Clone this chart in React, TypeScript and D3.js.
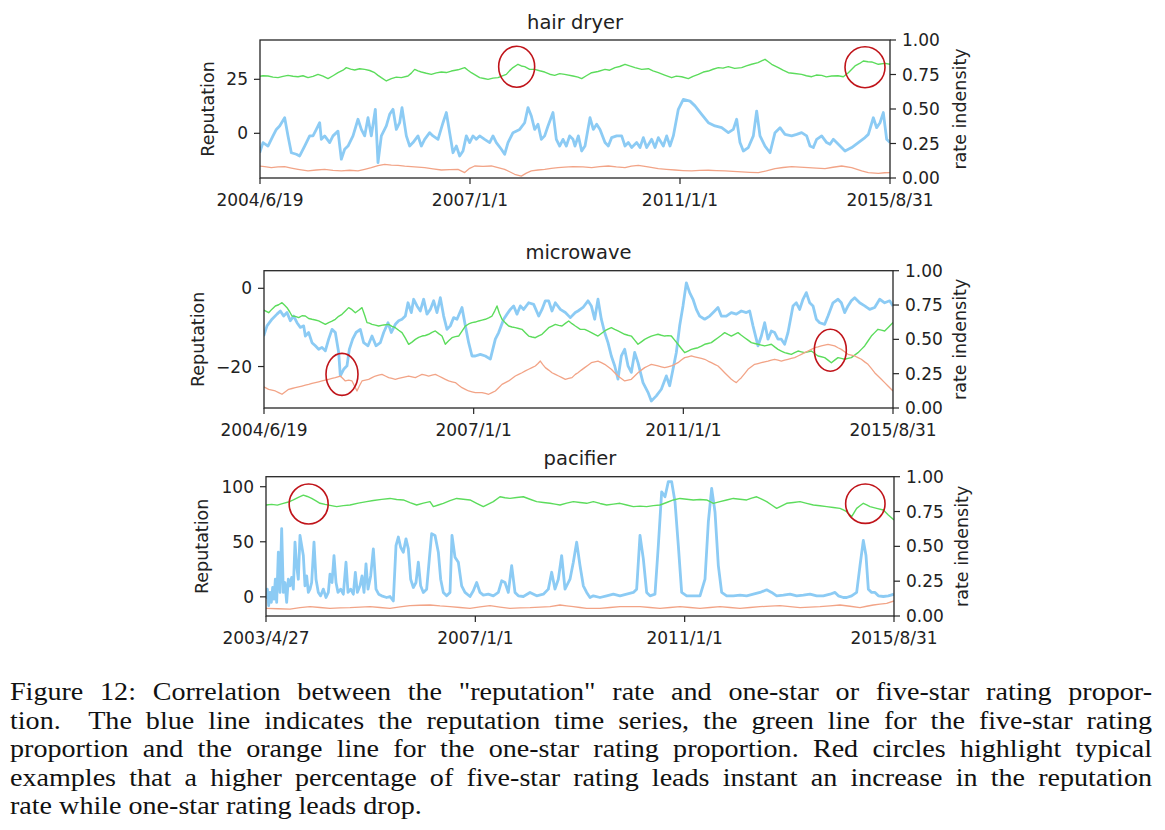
import React, { useLayoutEffect, useRef } from "react";
import * as d3 from "d3";

type P = [number, number];

// ---------- shared tick labels ----------
const X_LABELS_A = ["2004/6/19", "2007/1/1", "2011/1/1", "2015/8/31"];
const X_LABELS_B = ["2003/4/27", "2007/1/1", "2011/1/1", "2015/8/31"];
const RIGHT_TICKS = [0, 0.25, 0.5, 0.75, 1.0];

// ---------- hair dryer ----------
const HAIR_T: P = [6, 1896];
const HAIR_REP: P = [-20.7, 43.2];
const HAIR_LEFT_TICKS = [0, 25];
const HAIR_BLUE: P[] = [[5,-9.0],[15,-4.3],[30,-5.9],[45,-1.2],[55,1.8],[65,3.4],[80,7.2],[90,-1.2],[100,-9.0],[115,-9.7],[125,-10.5],[140,-5.9],[155,-1.2],[165,-1.2],[175,1.8],[185,4.9],[190,-2.8],[200,-1.2],[215,-4.3],[225,-1.2],[240,1.0],[250,-12.0],[260,-7.4],[270,-5.9],[285,-1.2],[300,6.5],[310,1.8],[320,-1.2],[330,7.2],[340,-1.2],[352,11.1],[360,-13.6],[370,-1.2],[385,3.4],[395,8.8],[405,11.1],[415,1.8],[425,4.9],[432,11.9],[445,-1.2],[455,-5.9],[465,-4.3],[480,-1.2],[490,-5.9],[500,-2.8],[515,0.3],[525,-1.2],[540,-2.8],[555,4.9],[565,9.6],[575,0.3],[585,-9.0],[595,-5.9],[605,-10.5],[615,-8.2],[625,-1.2],[635,-4.3],[645,-1.2],[655,-2.8],[665,-1.2],[680,-2.8],[695,-4.3],[705,-1.2],[715,-4.3],[730,-7.4],[740,-9.7],[750,-4.3],[765,0.3],[785,1.8],[800,4.9],[810,11.9],[820,8.0],[830,1.8],[840,4.2],[850,-2.8],[860,-1.2],[870,3.4],[885,9.6],[895,-2.8],[905,-5.9],[915,-2.8],[925,-5.9],[935,-1.2],[945,-2.8],[951,-5.9],[961,-1.2],[971,-8.2],[981,-5.9],[996,7.2],[1006,1.8],[1016,4.2],[1026,1.8],[1041,-4.3],[1051,-5.9],[1061,-2.0],[1076,-1.2],[1091,-1.2],[1101,-5.9],[1111,-4.3],[1121,-6.6],[1136,-4.3],[1146,-6.6],[1156,-2.0],[1166,-6.6],[1181,-2.8],[1191,-6.6],[1201,-2.0],[1216,-5.9],[1226,-1.2],[1236,-5.9],[1246,-1.2],[1261,11.1],[1276,15.7],[1296,14.9],[1311,12.7],[1331,8.8],[1351,4.9],[1371,3.4],[1391,2.6],[1411,0.3],[1426,1.8],[1436,6.5],[1446,-4.3],[1456,-8.2],[1471,-6.6],[1486,-1.2],[1496,10.3],[1506,-1.2],[1521,-5.9],[1536,-9.0],[1551,0.3],[1566,2.6],[1581,-0.5],[1601,-1.2],[1616,-0.5],[1631,0.3],[1646,-1.2],[1656,-5.9],[1666,-6.6],[1676,-2.8],[1691,-1.2],[1706,-4.3],[1716,-5.1],[1726,-2.8],[1741,-5.1],[1761,-8.2],[1781,-6.6],[1801,-4.3],[1821,-2.0],[1831,-0.5],[1846,7.2],[1856,2.6],[1866,4.9],[1876,9.6],[1886,-2.8],[1896,-4.3]];
const HAIR_GREEN: P[] = [[0,0.734],[15,0.741],[30,0.739],[45,0.731],[60,0.727],[75,0.736],[90,0.744],[105,0.737],[120,0.734],[135,0.741],[150,0.727],[165,0.736],[180,0.751],[195,0.738],[210,0.720],[225,0.741],[240,0.763],[255,0.781],[265,0.800],[278,0.789],[290,0.783],[305,0.792],[320,0.787],[335,0.779],[350,0.763],[360,0.744],[370,0.727],[385,0.703],[400,0.720],[415,0.731],[430,0.727],[450,0.739],[460,0.760],[470,0.787],[480,0.776],[490,0.768],[505,0.759],[520,0.751],[535,0.762],[550,0.768],[565,0.764],[580,0.775],[600,0.784],[620,0.800],[630,0.781],[640,0.763],[655,0.742],[665,0.727],[678,0.721],[690,0.715],[705,0.724],[720,0.727],[735,0.742],[745,0.751],[755,0.778],[765,0.800],[780,0.824],[790,0.812],[800,0.807],[815,0.787],[830,0.787],[845,0.777],[860,0.768],[875,0.752],[890,0.744],[905,0.756],[920,0.751],[945,0.739],[960,0.731],[971,0.720],[985,0.741],[1001,0.763],[1020,0.772],[1041,0.787],[1055,0.781],[1071,0.800],[1085,0.808],[1101,0.824],[1115,0.812],[1131,0.800],[1151,0.787],[1171,0.792],[1185,0.776],[1201,0.763],[1220,0.746],[1241,0.727],[1255,0.738],[1271,0.734],[1291,0.720],[1305,0.737],[1321,0.751],[1336,0.768],[1351,0.775],[1365,0.788],[1381,0.800],[1395,0.796],[1411,0.807],[1430,0.794],[1451,0.800],[1465,0.812],[1481,0.824],[1500,0.836],[1521,0.860],[1531,0.842],[1541,0.824],[1561,0.800],[1575,0.781],[1591,0.763],[1610,0.757],[1631,0.751],[1645,0.741],[1661,0.734],[1675,0.746],[1691,0.744],[1705,0.733],[1721,0.739],[1740,0.741],[1756,0.734],[1771,0.763],[1791,0.812],[1805,0.830],[1816,0.848],[1830,0.842],[1841,0.841],[1861,0.824],[1881,0.831],[1896,0.824]];
const HAIR_ORANGE: P[] = [[0,0.087],[20,0.082],[40,0.075],[60,0.080],[80,0.082],[100,0.072],[120,0.063],[150,0.051],[175,0.058],[200,0.063],[225,0.055],[250,0.051],[275,0.056],[300,0.051],[320,0.063],[340,0.075],[360,0.089],[380,0.099],[400,0.094],[420,0.092],[440,0.086],[460,0.082],[480,0.079],[500,0.075],[525,0.066],[550,0.058],[575,0.060],[600,0.063],[620,0.039],[635,0.070],[650,0.087],[675,0.084],[700,0.087],[720,0.075],[740,0.063],[755,0.045],[770,0.027],[790,0.014],[805,0.035],[820,0.051],[840,0.058],[860,0.063],[880,0.070],[900,0.075],[920,0.079],[945,0.082],[975,0.080],[1001,0.075],[1025,0.082],[1051,0.087],[1075,0.080],[1101,0.075],[1120,0.086],[1141,0.092],[1170,0.080],[1201,0.068],[1225,0.063],[1251,0.058],[1275,0.054],[1301,0.051],[1325,0.055],[1351,0.056],[1375,0.053],[1401,0.051],[1425,0.048],[1451,0.044],[1475,0.041],[1501,0.039],[1525,0.052],[1551,0.068],[1575,0.076],[1601,0.082],[1625,0.079],[1651,0.075],[1675,0.072],[1701,0.068],[1725,0.078],[1751,0.087],[1781,0.075],[1811,0.051],[1831,0.039],[1861,0.034],[1880,0.038],[1896,0.039]];
const HAIR_CIRCLES: P[] = [[776, 0.806], [1821, 0.803]];

// ---------- microwave ----------
const MICRO_T: P = [6, 1893];
const MICRO_REP: P = [-30.6, 4.5];
const MICRO_LEFT_TICKS = [-20, 0];
const MICRO_BLUE: P[] = [[5,-12.2],[15,-9.6],[30,-7.9],[45,-6.6],[55,-5.8],[65,-7.1],[75,-6.2],[85,-8.3],[95,-7.1],[105,-8.8],[115,-10.0],[125,-9.6],[130,-12.2],[140,-11.3],[150,-13.9],[160,-14.7],[170,-15.6],[180,-15.1],[190,-16.0],[200,-13.0],[210,-10.5],[220,-11.3],[230,-16.4],[235,-22.4],[245,-20.7],[255,-19.8],[262,-15.6],[272,-13.0],[282,-11.3],[295,-10.5],[305,-13.9],[318,-14.7],[330,-12.2],[342,-14.7],[355,-13.9],[365,-11.3],[378,-8.8],[388,-11.3],[400,-9.2],[410,-8.3],[420,-7.9],[430,-7.1],[438,-3.7],[448,-6.2],[455,-2.8],[465,-4.5],[475,-5.8],[485,-2.8],[495,-6.6],[505,-5.4],[515,-3.2],[525,-6.2],[535,-2.4],[545,-7.1],[555,-10.5],[565,-9.6],[575,-7.5],[585,-7.9],[600,-4.9],[610,-9.6],[620,-13.9],[630,-17.3],[640,-17.3],[655,-16.9],[670,-17.3],[685,-18.1],[700,-13.0],[710,-11.3],[725,-7.9],[735,-6.6],[745,-5.4],[755,-4.5],[765,-6.6],[775,-4.5],[785,-5.4],[800,-3.7],[815,-4.1],[830,-7.1],[840,-5.4],[850,-3.2],[860,-3.2],[870,-5.8],[880,-3.7],[895,-5.4],[910,-6.2],[925,-7.5],[940,-6.2],[948,-5.8],[963,-4.9],[978,-3.2],[988,-4.5],[998,-7.9],[1008,-2.8],[1018,-7.9],[1028,-11.3],[1038,-13.9],[1048,-17.3],[1058,-19.8],[1068,-23.2],[1078,-17.3],[1088,-15.6],[1098,-19.8],[1108,-21.5],[1118,-16.4],[1128,-19.0],[1143,-24.1],[1158,-26.6],[1168,-28.8],[1183,-27.5],[1198,-25.8],[1213,-22.4],[1223,-24.9],[1233,-20.7],[1243,-16.4],[1253,-9.6],[1263,-4.5],[1273,1.4],[1283,-1.1],[1293,-2.8],[1303,-5.4],[1313,-7.1],[1328,-7.9],[1343,-7.1],[1358,-5.8],[1368,-4.9],[1378,-7.1],[1393,-7.1],[1408,-6.2],[1423,-6.6],[1438,-5.8],[1453,-6.2],[1463,-5.8],[1473,-9.6],[1488,-14.7],[1498,-12.2],[1508,-8.8],[1518,-13.0],[1528,-10.9],[1538,-11.3],[1548,-13.0],[1558,-13.0],[1568,-14.3],[1578,-11.3],[1593,-4.5],[1603,-3.7],[1613,-5.4],[1623,-2.8],[1633,-1.1],[1643,-3.7],[1653,-4.5],[1663,-7.9],[1673,-8.8],[1688,-9.2],[1698,-7.1],[1713,-3.7],[1728,-2.8],[1738,-3.7],[1748,-6.2],[1758,-4.5],[1768,-3.2],[1778,-2.4],[1793,-3.7],[1808,-4.5],[1823,-5.4],[1838,-4.9],[1853,-2.8],[1868,-3.7],[1883,-3.2],[1893,-4.5]];
const MICRO_GREEN: P[] = [[0,0.719],[10,0.708],[20,0.694],[30,0.720],[40,0.743],[50,0.752],[60,0.767],[68,0.748],[75,0.731],[83,0.701],[90,0.670],[100,0.667],[110,0.658],[120,0.672],[130,0.670],[140,0.652],[150,0.646],[160,0.641],[170,0.634],[180,0.622],[190,0.609],[200,0.622],[210,0.632],[220,0.646],[230,0.668],[240,0.682],[250,0.706],[260,0.731],[270,0.716],[280,0.694],[290,0.712],[300,0.731],[308,0.676],[315,0.622],[322,0.618],[330,0.609],[340,0.604],[350,0.597],[365,0.605],[380,0.609],[390,0.595],[400,0.585],[410,0.566],[420,0.549],[430,0.509],[440,0.464],[450,0.480],[460,0.500],[470,0.515],[480,0.524],[490,0.528],[500,0.537],[510,0.551],[520,0.561],[530,0.542],[540,0.524],[550,0.464],[560,0.490],[570,0.512],[580,0.520],[590,0.524],[600,0.560],[610,0.597],[620,0.612],[630,0.622],[640,0.626],[650,0.634],[660,0.640],[670,0.646],[680,0.657],[690,0.670],[698,0.706],[705,0.743],[712,0.690],[720,0.646],[730,0.620],[740,0.597],[750,0.590],[760,0.585],[770,0.579],[780,0.573],[790,0.548],[800,0.524],[810,0.517],[820,0.512],[830,0.526],[840,0.537],[850,0.561],[860,0.585],[870,0.597],[880,0.609],[890,0.602],[900,0.597],[910,0.616],[920,0.634],[930,0.614],[940,0.597],[955,0.573],[968,0.573],[978,0.561],[988,0.549],[998,0.536],[1008,0.524],[1018,0.543],[1028,0.561],[1038,0.574],[1048,0.585],[1058,0.572],[1068,0.561],[1078,0.549],[1088,0.537],[1098,0.530],[1108,0.524],[1118,0.494],[1128,0.464],[1138,0.482],[1148,0.500],[1158,0.512],[1168,0.524],[1178,0.531],[1188,0.537],[1198,0.530],[1208,0.524],[1218,0.527],[1228,0.524],[1238,0.494],[1248,0.464],[1258,0.433],[1268,0.403],[1278,0.415],[1288,0.427],[1298,0.433],[1308,0.439],[1318,0.451],[1328,0.464],[1338,0.470],[1348,0.476],[1358,0.494],[1368,0.512],[1378,0.530],[1388,0.549],[1398,0.536],[1408,0.524],[1418,0.537],[1428,0.549],[1438,0.530],[1448,0.512],[1458,0.494],[1468,0.476],[1478,0.470],[1488,0.464],[1498,0.458],[1508,0.452],[1518,0.458],[1528,0.464],[1538,0.445],[1548,0.427],[1558,0.415],[1568,0.403],[1578,0.397],[1588,0.391],[1598,0.403],[1608,0.415],[1618,0.409],[1628,0.403],[1638,0.409],[1648,0.415],[1658,0.397],[1668,0.379],[1678,0.373],[1688,0.367],[1698,0.349],[1708,0.330],[1718,0.349],[1728,0.367],[1738,0.361],[1748,0.355],[1758,0.361],[1768,0.367],[1778,0.385],[1788,0.403],[1798,0.427],[1808,0.452],[1818,0.488],[1828,0.524],[1838,0.549],[1848,0.573],[1858,0.567],[1868,0.561],[1880,0.590],[1893,0.622]];
const MICRO_ORANGE: P[] = [[0,0.160],[10,0.148],[20,0.136],[30,0.130],[40,0.124],[50,0.112],[60,0.100],[70,0.118],[80,0.136],[90,0.142],[100,0.148],[110,0.154],[120,0.160],[130,0.166],[140,0.172],[150,0.179],[160,0.185],[170,0.191],[180,0.197],[190,0.203],[200,0.209],[210,0.215],[220,0.221],[235,0.233],[250,0.197],[260,0.203],[270,0.197],[285,0.124],[292,0.160],[300,0.197],[310,0.203],[320,0.209],[330,0.221],[340,0.233],[350,0.239],[360,0.245],[370,0.233],[380,0.221],[390,0.215],[400,0.209],[410,0.215],[420,0.221],[430,0.227],[440,0.233],[450,0.227],[460,0.221],[470,0.233],[480,0.245],[490,0.239],[500,0.233],[510,0.239],[520,0.245],[530,0.233],[540,0.221],[550,0.209],[560,0.197],[570,0.191],[580,0.185],[590,0.166],[600,0.148],[610,0.136],[620,0.124],[630,0.118],[640,0.112],[650,0.112],[660,0.112],[670,0.106],[680,0.100],[690,0.112],[700,0.124],[710,0.148],[720,0.172],[730,0.185],[740,0.197],[750,0.215],[760,0.233],[770,0.245],[780,0.257],[790,0.270],[800,0.282],[810,0.294],[820,0.306],[828,0.324],[835,0.342],[842,0.318],[850,0.294],[860,0.276],[870,0.257],[880,0.245],[890,0.233],[900,0.221],[910,0.209],[920,0.215],[930,0.221],[940,0.245],[948,0.257],[958,0.276],[968,0.294],[978,0.312],[988,0.330],[998,0.336],[1008,0.342],[1018,0.330],[1028,0.318],[1038,0.300],[1048,0.282],[1058,0.257],[1068,0.233],[1078,0.215],[1088,0.197],[1098,0.203],[1108,0.209],[1118,0.233],[1128,0.257],[1138,0.276],[1148,0.294],[1158,0.306],[1168,0.318],[1178,0.312],[1188,0.306],[1198,0.300],[1208,0.294],[1218,0.300],[1228,0.306],[1238,0.318],[1248,0.330],[1258,0.349],[1268,0.367],[1278,0.373],[1288,0.379],[1298,0.373],[1308,0.367],[1318,0.361],[1328,0.355],[1338,0.342],[1348,0.330],[1358,0.318],[1368,0.306],[1378,0.282],[1388,0.257],[1398,0.233],[1408,0.209],[1415,0.197],[1423,0.185],[1430,0.203],[1438,0.221],[1448,0.251],[1458,0.282],[1468,0.300],[1478,0.318],[1488,0.324],[1498,0.330],[1508,0.336],[1518,0.342],[1528,0.349],[1538,0.355],[1548,0.349],[1558,0.342],[1568,0.349],[1578,0.355],[1588,0.361],[1598,0.367],[1608,0.379],[1618,0.391],[1628,0.403],[1638,0.415],[1648,0.427],[1658,0.439],[1668,0.445],[1678,0.452],[1688,0.458],[1698,0.464],[1708,0.458],[1718,0.452],[1728,0.439],[1738,0.427],[1748,0.409],[1758,0.391],[1768,0.385],[1778,0.379],[1788,0.367],[1798,0.355],[1808,0.336],[1818,0.318],[1828,0.288],[1838,0.257],[1848,0.233],[1858,0.209],[1868,0.185],[1878,0.160],[1893,0.124]];
const MICRO_CIRCLES: P[] = [[240, 0.245], [1705, 0.421]];

// ---------- pacifier ----------
const PACI_T: P = [228, 2112];
const PACI_REP: P = [-17.4, 109.1];
const PACI_LEFT_TICKS = [0, 50, 100];
const PACI_BLUE: P[] = [[228,-2],[232,7],[236,-8],[240,4],[244,-5],[248,8.5],[252,-2],[256,16],[260,-5],[265,40.5],[270,4],[275,62],[280,4],[285,13],[290,-5],[295,16],[300,10],[305,17.7],[310,7],[315,49.7],[320,28],[325,16],[330,55.8],[335,46.6],[340,37.5],[345,10],[350,19],[355,4],[360,7],[365,13],[372,49.7],[378,16],[385,4],[392,0.9],[400,7],[408,-0.6],[415,4],[420,20.7],[426,13],[432,37.5],[438,13],[444,4],[452,7],[460,2.4],[468,31.4],[474,4],[482,7],[490,2.4],[496,22.3],[502,4],[510,10],[516,19],[522,4],[528,29.9],[534,7],[542,19],[550,43.6],[558,7],[566,2.4],[575,0.9],[590,-0.6],[600,0.3],[610,-3.7],[618,46.6],[625,54.3],[632,45],[640,40.5],[648,52.7],[655,43.6],[662,16],[670,8.5],[678,13],[685,31.4],[692,10],[700,4],[710,7],[718,34.5],[725,57.3],[735,55.8],[745,40.5],[752,16],[760,4],[770,0.9],[780,4],[786,55.8],[795,36],[805,31.4],[815,10],[825,4],[840,0.3],[850,5.5],[860,13],[870,4],[880,1.5],[895,2.4],[910,0.9],[925,4],[935,14.6],[945,13],[955,4],[965,28.4],[975,4],[985,0.9],[1000,0.3],[1020,4],[1040,0.9],[1060,2.4],[1075,7],[1085,22.3],[1095,7],[1105,16],[1115,37.5],[1125,7],[1140,16],[1150,31.4],[1160,49.7],[1170,28.4],[1180,10],[1190,4],[1200,-0.6],[1210,0.9],[1230,-0.6],[1250,0.9],[1270,2.4],[1290,0.9],[1310,2.4],[1330,4],[1340,7],[1350,55.8],[1360,34.5],[1370,4],[1380,0.9],[1395,2.4],[1405,46.6],[1415,95.4],[1425,90.9],[1435,104.6],[1445,104.6],[1455,86.3],[1465,46.6],[1475,4],[1490,0.9],[1510,0.9],[1530,0.9],[1545,16],[1555,68],[1565,98.5],[1575,77.1],[1585,28.4],[1595,4],[1610,0.9],[1630,0.9],[1650,1.5],[1670,0.9],[1690,2.4],[1710,4],[1730,6.4],[1745,4],[1760,0.9],[1780,1.5],[1800,2.4],[1820,0.9],[1840,1.5],[1860,2.4],[1880,0.9],[1900,0.9],[1920,2.4],[1935,4],[1945,0.9],[1960,-0.6],[1970,-0.6],[1985,0.9],[2000,4],[2010,28.4],[2020,51.2],[2028,37.5],[2035,7],[2045,4],[2055,4],[2065,0.9],[2080,0.3],[2095,0.9],[2112,2.4]];
const PACI_GREEN: P[] = [[228,0.797],[245,0.801],[262,0.796],[280,0.809],[295,0.818],[310,0.833],[325,0.852],[340,0.868],[352,0.858],[365,0.844],[378,0.826],[390,0.809],[405,0.801],[420,0.794],[440,0.785],[460,0.792],[480,0.797],[505,0.810],[530,0.821],[550,0.829],[575,0.837],[600,0.844],[620,0.836],[640,0.833],[660,0.814],[680,0.797],[700,0.810],[720,0.821],[730,0.785],[745,0.797],[760,0.809],[780,0.828],[800,0.844],[820,0.838],[840,0.833],[860,0.809],[880,0.785],[895,0.803],[910,0.821],[930,0.856],[945,0.849],[960,0.844],[980,0.851],[1000,0.856],[1020,0.838],[1040,0.821],[1060,0.815],[1080,0.809],[1095,0.803],[1110,0.797],[1130,0.810],[1150,0.821],[1170,0.815],[1190,0.809],[1210,0.821],[1230,0.808],[1250,0.797],[1270,0.803],[1290,0.809],[1310,0.797],[1330,0.785],[1350,0.789],[1370,0.785],[1390,0.792],[1410,0.797],[1430,0.815],[1450,0.833],[1470,0.844],[1490,0.838],[1510,0.833],[1530,0.836],[1550,0.833],[1570,0.809],[1590,0.821],[1610,0.833],[1630,0.844],[1650,0.838],[1670,0.833],[1685,0.846],[1700,0.856],[1715,0.839],[1730,0.821],[1745,0.797],[1760,0.773],[1775,0.791],[1790,0.809],[1810,0.815],[1830,0.821],[1850,0.809],[1870,0.797],[1890,0.791],[1910,0.785],[1930,0.779],[1950,0.773],[1960,0.761],[1970,0.749],[1985,0.713],[2000,0.773],[2010,0.791],[2020,0.809],[2030,0.797],[2040,0.785],[2060,0.773],[2080,0.761],[2095,0.725],[2112,0.689]];
const PACI_ORANGE: P[] = [[228,0.055],[264,0.052],[300,0.050],[330,0.060],[360,0.067],[390,0.061],[420,0.055],[450,0.058],[480,0.060],[510,0.064],[540,0.067],[570,0.061],[600,0.055],[630,0.065],[660,0.074],[690,0.077],[720,0.079],[750,0.072],[780,0.067],[810,0.061],[840,0.055],[870,0.065],[900,0.074],[930,0.064],[960,0.055],[990,0.058],[1020,0.060],[1050,0.064],[1080,0.067],[1110,0.079],[1130,0.073],[1150,0.067],[1170,0.061],[1190,0.055],[1230,0.055],[1260,0.061],[1290,0.067],[1320,0.067],[1350,0.067],[1380,0.061],[1410,0.055],[1440,0.061],[1470,0.067],[1500,0.061],[1530,0.055],[1560,0.061],[1590,0.067],[1620,0.061],[1650,0.055],[1680,0.061],[1710,0.067],[1740,0.071],[1770,0.074],[1800,0.067],[1830,0.060],[1860,0.064],[1890,0.067],[1920,0.073],[1950,0.079],[1980,0.070],[2010,0.060],[2030,0.070],[2050,0.079],[2070,0.085],[2090,0.091],[2112,0.108]];
const PACI_CIRCLES: P[] = [[356, 0.804], [2026, 0.806]];

// ---------- caption ----------
const CAPTION_LINES = [
  'Figure 12: Correlation between the "reputation" rate and one-star or five-star rating propor-',
  "tion.  The blue line indicates the reputation time series, the green line for the five-star rating",
  "proportion and the orange line for the one-star rating proportion. Red circles highlight typical",
  "examples that a higher percentage of five-star rating leads instant an increase in the reputation",
  "rate while one-star rating leads drop.",
];

// ---------- layout / style ----------
const FONT = "DejaVu Sans, sans-serif";
const SERIF = "Liberation Serif, serif";
const BLUE = "#8ccbf4";
const GREEN = "#5cdc5c";
const ORANGE = "#f2a487";
const CIRCLE = "#c0141a";
const AXIS = "#262626";

interface PanelCfg {
  id: string;
  title: string;
  tDomain: P;
  repDomain: P;
  leftTicks: number[];
  xLabels: string[];
  blue: P[];
  green: P[];
  orange: P[];
  circles: P[];
  radii: P[];
  box: { left: number; right: number; top: number; bottom: number };
  yLabelX: number;
  rLabelX: number;
}

const PANELS: PanelCfg[] = [
  {
    id: "hair", title: "hair dryer", tDomain: HAIR_T, repDomain: HAIR_REP, leftTicks: HAIR_LEFT_TICKS,
    xLabels: X_LABELS_A, blue: HAIR_BLUE, green: HAIR_GREEN, orange: HAIR_ORANGE, circles: HAIR_CIRCLES,
    radii: [[18, 20.5], [20, 20.5]],
    box: { left: 260, right: 890, top: 40, bottom: 178 }, yLabelX: 208, rLabelX: 960,
  },
  {
    id: "micro", title: "microwave", tDomain: MICRO_T, repDomain: MICRO_REP, leftTicks: MICRO_LEFT_TICKS,
    xLabels: X_LABELS_A, blue: MICRO_BLUE, green: MICRO_GREEN, orange: MICRO_ORANGE, circles: MICRO_CIRCLES,
    radii: [[16, 21], [16, 21]],
    box: { left: 264, right: 893, top: 270.7, bottom: 408 }, yLabelX: 198, rLabelX: 960,
  },
  {
    id: "paci", title: "pacifier", tDomain: PACI_T, repDomain: PACI_REP, leftTicks: PACI_LEFT_TICKS,
    xLabels: X_LABELS_B, blue: PACI_BLUE, green: PACI_GREEN, orange: PACI_ORANGE, circles: PACI_CIRCLES,
    radii: [[19.5, 20], [19.7, 19.7]],
    box: { left: 266, right: 894, top: 476.7, bottom: 616 }, yLabelX: 201.5, rLabelX: 961.5,
  },
];

function Panel({ cfg }: { cfg: PanelCfg }) {
  const { box } = cfg;
  const x = d3.scaleLinear().domain(cfg.tDomain).range([box.left, box.right]);
  const yL = d3.scaleLinear().domain(cfg.repDomain).range([box.bottom, box.top]);
  const yR = d3.scaleLinear().domain([0, 1]).range([box.bottom, box.top]);
  const lineL = d3.line<P>().x((d) => x(d[0])).y((d) => yL(d[1]));
  const lineR = d3.line<P>().x((d) => x(d[0])).y((d) => yR(d[1]));
  const [t0, t1] = cfg.tDomain;
  const xTicks = cfg.xLabels.map((lab, i) => ({ lab, t: t0 + ((t1 - t0) * i) / (cfg.xLabels.length - 1) }));
  const clipId = `clip-${cfg.id}`;
  const tickLen = 6;
  const fs = 17;
  const cx = (box.left + box.right) / 2;
  const cyMid = (box.top + box.bottom) / 2;
  return (
    <g>
      <defs>
        <clipPath id={clipId}>
          <rect x={box.left} y={box.top} width={box.right - box.left} height={box.bottom - box.top} />
        </clipPath>
      </defs>
      <g clipPath={`url(#${clipId})`}>
        <path d={lineL(cfg.blue) || ""} fill="none" stroke={BLUE} strokeWidth={2.8} strokeLinejoin="round" />
        <path d={lineR(cfg.green) || ""} fill="none" stroke={GREEN} strokeWidth={1.4} strokeLinejoin="round" />
        <path d={lineR(cfg.orange) || ""} fill="none" stroke={ORANGE} strokeWidth={1.3} strokeLinejoin="round" />
      </g>
      {cfg.circles.map((c, i) => (
        <ellipse key={i} cx={x(c[0])} cy={yR(c[1])} rx={cfg.radii[i][0]} ry={cfg.radii[i][1]}
          fill="none" stroke={CIRCLE} strokeWidth={1.6} />
      ))}
      <rect x={box.left} y={box.top} width={box.right - box.left} height={box.bottom - box.top}
        fill="none" stroke={AXIS} strokeWidth={1.3} />
      {cfg.leftTicks.map((v) => (
        <g key={`l${v}`}>
          <line x1={box.left - tickLen} x2={box.left} y1={yL(v)} y2={yL(v)} stroke={AXIS} strokeWidth={1.2} />
          <text x={box.left - tickLen - 6} y={yL(v)} dy="0.36em" textAnchor="end" fontFamily={FONT} fontSize={fs} fill="#222">
            {v < 0 ? `\u2212${Math.abs(v)}` : `${v}`}
          </text>
        </g>
      ))}
      {RIGHT_TICKS.map((v) => (
        <g key={`r${v}`}>
          <line x1={box.right} x2={box.right + tickLen} y1={yR(v)} y2={yR(v)} stroke={AXIS} strokeWidth={1.2} />
          <text x={box.right + tickLen + 6} y={yR(v)} dy="0.36em" textAnchor="start" fontFamily={FONT} fontSize={fs} fill="#222">
            {v.toFixed(2)}
          </text>
        </g>
      ))}
      {xTicks.map((tk) => (
        <g key={tk.lab}>
          <line x1={x(tk.t)} x2={x(tk.t)} y1={box.bottom} y2={box.bottom + tickLen} stroke={AXIS} strokeWidth={1.2} />
          <text x={x(tk.t)} y={box.bottom + 27.5} textAnchor="middle" fontFamily={FONT} fontSize={fs} fill="#222">
            {tk.lab}
          </text>
        </g>
      ))}
      <text x={cx} y={box.top - 11.5} textAnchor="middle" fontFamily={FONT} fontSize={19.5} fill="#222">
        {cfg.title}
      </text>
      <text transform={`translate(${cfg.yLabelX},${cyMid}) rotate(-90)`} textAnchor="middle" dy="0.36em"
        fontFamily={FONT} fontSize={17.5} fill="#222">Reputation</text>
      <text transform={`translate(${cfg.rLabelX},${cyMid}) rotate(-90)`} textAnchor="middle" dy="0.36em"
        fontFamily={FONT} fontSize={17.5} fill="#222">rate indensity</text>
    </g>
  );
}

const CAP_LEFT = 10;
const CAP_RIGHT = 1152;
const CAP_LAST_WIDTH = 388;
const CAP_WORD_GAP = 2.5;
const CAP_BASELINES = [700, 728.5, 757, 785.5, 814];

function Caption() {
  const refs = useRef<(SVGTextElement | null)[]>([]);
  useLayoutEffect(() => {
    const els = refs.current;
    const n = CAPTION_LINES.length;
    if (els.some((e) => !e)) return;
    // glyph scale: average of "justified with modest spacing" and "last line width" estimates
    const full = CAP_RIGHT - CAP_LEFT;
    const scales: number[] = [];
    for (let i = 0; i < n - 1; i++) {
      const el = els[i]!;
      el.setAttribute("word-spacing", `${CAP_WORD_GAP}`);
      scales.push(full / el.getComputedTextLength());
      el.setAttribute("word-spacing", "0");
    }
    const sJust = scales.reduce((a, b) => a + b, 0) / scales.length;
    const sLast = CAP_LAST_WIDTH / els[n - 1]!.getComputedTextLength();
    const s = (sJust + sLast) / 2;
    els.forEach((el, i) => {
      if (!el) return;
      el.setAttribute("transform", `translate(${CAP_LEFT},${CAP_BASELINES[i]}) scale(${s},1)`);
      if (i < n - 1) {
        const nat = el.getComputedTextLength();
        const spaces = (CAPTION_LINES[i].match(/ /g) || []).length;
        const ws = spaces > 0 ? (full / s - nat) / spaces : 0;
        el.setAttribute("word-spacing", `${ws}`);
      }
    });
  }, []);
  return (
    <g>
      {CAPTION_LINES.map((line, i) => (
        <text key={i} ref={(el) => { refs.current[i] = el; }} x={0} y={0}
          transform={`translate(${CAP_LEFT},${CAP_BASELINES[i]})`}
          fontFamily={SERIF} fontSize={25} fill="#111" xmlSpace="preserve">
          {line}
        </text>
      ))}
    </g>
  );
}

export default function App() {
  const W = 1165;
  const H = 830;
  return (
    <svg width={W} height={H} viewBox={`0 0 ${W} ${H}`}
      style={{ position: "absolute", left: 0, top: 0, display: "block", background: "#fff" }}>
      <rect x={0} y={0} width={W} height={H} fill="#fff" />
      {PANELS.map((p) => <Panel key={p.id} cfg={p} />)}
      <Caption />
    </svg>
  );
}
